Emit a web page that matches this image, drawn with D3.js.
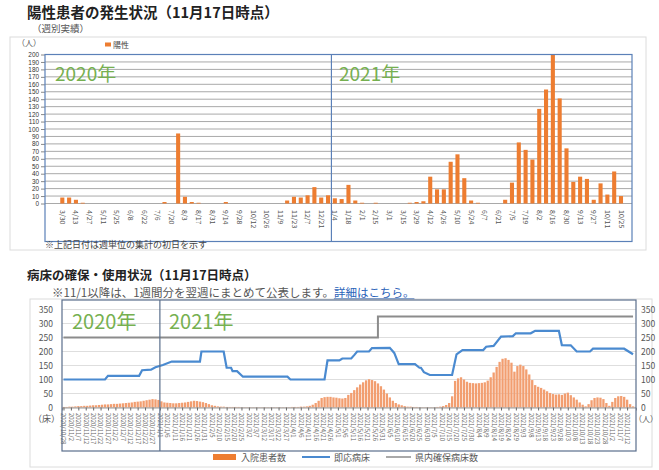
<!DOCTYPE html>
<html>
<head>
<meta charset="utf-8">
<script src="https://cdn.jsdelivr.net/npm/d3@7"></script>
<style>
  body { margin: 0; background: #fff; }
  svg text { font-family: "Noto Sans CJK JP", "Noto Sans", sans-serif; }
  svg .num text { font-family: "Liberation Sans", "DejaVu Sans", sans-serif; }
</style>
</head>
<body>
<svg id="chart" width="659" height="470"></svg>
<script>
// ---- 陽性患者（週別） ----
var weekStart2020 = "2020-03-30";
var weekStart2021 = "2021-01-04";
var positive2020 = [8, 8, 5, 1, 0, 0, 0, 0, 0, 0, 0, 0, 0, 0, 0,
  2, 0, 94, 9, 2, 1, 0, 0, 0, 2, 0, 0, 0, 0, 0, 0, 0, 0,
  4, 9, 8, 11, 22, 8, 11];
var positive2021 = [7, 6, 25, 4, 1, 0, 1, 0, 0, 0, 0, 1, 2, 3, 36, 19, 19, 56, 66, 34,
  4, 1, 0, 0, 0, 5, 28, 82, 72, 59, 127, 153, 200, 141, 74, 29, 36, 33, 5, 27, 12, 43, 10];
var topTicks = d3.range(0, 201, 10);

// ---- 病床（2日ごと） ----
var bedStart = "2020-10-28";
var inpatients = [2, 2, 3, 3, 4,
  5, 5, 6, 6, 7, 8, 8, 9,
  10, 11, 11, 12, 13, 13, 14, 15, 16,
  17, 18, 20, 21, 22, 24, 26,
  28, 30, 29, 27,
  22, 18, 17, 16, 15, 15, 16, 17, 18,
  20, 22, 24, 23, 21, 19, 16,
  12, 8, 6, 4,
  3, 3, 2, 2, 2, 2, 2, 1, 1, 1, 1, 1, 1, 1, 1, 1, 1, 1, 1, 1, 1, 1, 1, 1, 2, 2, 2, 3, 3,
  4, 6, 10, 16, 24,
  34, 37, 38, 38, 36, 35, 33, 32, 34,
  45, 52, 62, 72, 82, 90, 97, 101, 98, 94, 86, 76, 64, 50, 36, 24, 16, 11, 8, 5,
  3, 3, 2, 2, 1, 1, 1, 1, 1, 1, 2, 3,
  5, 9, 16, 40,
  95, 104, 108, 100, 92, 88, 87, 86, 87, 88, 90, 96, 108, 125, 145, 163, 174, 176, 170, 160,
  128, 148, 153, 148, 136, 118, 98, 80, 74, 70, 64, 58, 52, 48, 46, 47, 45, 50, 53, 44, 36, 28, 18, 10, 4,
  12, 26, 34, 36, 35, 30, 16, 6, 20, 34, 40, 41, 38, 28, 12, 4];

// 即応病床 (date, beds)
var readyBeds = [
  ["2020-10-28", 100], ["2020-11-25", 100], ["2020-11-27", 113], ["2020-12-18", 113],
  ["2020-12-20", 133], ["2020-12-26", 135], ["2020-12-29", 144], ["2021-01-03", 152],
  ["2021-01-09", 164], ["2021-01-28", 164], ["2021-01-29", 200], ["2021-02-13", 200],
  ["2021-02-15", 142], ["2021-02-18", 142], ["2021-02-19", 130], ["2021-02-22", 130],
  ["2021-02-26", 110], ["2021-03-28", 110], ["2021-03-30", 100], ["2021-04-22", 100],
  ["2021-04-24", 168], ["2021-05-02", 168], ["2021-05-04", 175], ["2021-05-10", 175],
  ["2021-05-12", 187], ["2021-05-14", 200], ["2021-05-22", 200], ["2021-05-24", 212],
  ["2021-06-05", 213], ["2021-06-08", 195], ["2021-06-11", 155], ["2021-06-22", 155],
  ["2021-06-25", 142], ["2021-06-26", 142], ["2021-06-28", 126], ["2021-07-02", 116],
  ["2021-07-17", 116], ["2021-07-20", 190], ["2021-07-24", 205], ["2021-08-07", 205],
  ["2021-08-09", 217], ["2021-08-14", 220], ["2021-08-19", 253], ["2021-08-27", 255],
  ["2021-08-29", 265], ["2021-09-08", 265], ["2021-09-11", 274], ["2021-09-27", 274],
  ["2021-09-29", 223], ["2021-10-05", 222], ["2021-10-09", 200], ["2021-10-18", 200],
  ["2021-10-20", 210], ["2021-11-10", 210], ["2021-11-16", 190]
];
// 県内確保病床数
var securedBeds = [["2020-10-28", 250], ["2021-05-28", 250], ["2021-05-28", 325], ["2021-11-16", 325]];
var bedTicks = d3.range(0, 351, 50);

var parse = d3.timeParse("%Y-%m-%d");
var orange = "#ed7d31";
var svg = d3.select("#chart");

// ================= 上段 =================
var s20 = parse(weekStart2020), s21 = parse(weekStart2021);
var weeks = positive2020.map(function(v, i) { return { date: d3.timeWeek.offset(s20, i), value: v }; })
  .concat(positive2021.map(function(v, i) { return { date: d3.timeWeek.offset(s21, i), value: v }; }));
weeks.forEach(function(d, i) { d.i = i; });

svg.append("text").attr("x", 27).attr("y", 18).attr("font-size", 14.5).attr("font-weight", "bold")
  .attr("fill", "#222").text("陽性患者の発生状況（11月17日時点）");
svg.append("text").attr("x", 32).attr("y", 32).attr("font-size", 9.5).attr("fill", "#555").text("（週別実績）");

svg.append("rect").attr("x", 10).attr("y", 37).attr("width", 636).attr("height", 213)
  .attr("fill", "none").attr("stroke", "#dcdcdc");

var xTop = d3.scaleBand().domain(weeks.map(function(d) { return d.i; }))
  .range([58.9, 624.4]).paddingInner(0.4).paddingOuter(0.2);
var yTop = d3.scaleLinear().domain([0, 200]).range([203.5, 54.5]);

var gTop = svg.append("g");
gTop.selectAll(".grid").data(topTicks).enter().append("line")
  .attr("x1", 45).attr("x2", 632)
  .attr("y1", function(d) { return yTop(d); }).attr("y2", function(d) { return yTop(d); })
  .attr("stroke", "#a9a9a9").attr("stroke-width", 1);

var yAxisTop = gTop.append("g").attr("class", "num").attr("transform", "translate(45,0)")
  .call(d3.axisLeft(yTop).tickValues(topTicks).tickSize(4).tickPadding(2));
yAxisTop.select(".domain").remove();
yAxisTop.selectAll("line").attr("stroke", "#888");
yAxisTop.selectAll("text").attr("font-size", 6.4).attr("fill", "#333");

gTop.selectAll(".bar").data(weeks).enter().append("rect")
  .attr("x", function(d) { return xTop(d.i); })
  .attr("width", xTop.bandwidth())
  .attr("y", function(d) { return yTop(d.value); })
  .attr("height", function(d) { return yTop(0) - yTop(d.value); })
  .attr("fill", orange);

var fmtWeek = d3.timeFormat("%-m/%-d");
gTop.selectAll(".xl").data(weeks.filter(function(d) { return d.i % 2 === 0; })).enter().append("text")
  .attr("transform", function(d) { return "translate(" + (xTop(d.i) + xTop.bandwidth() / 2) + ",210) rotate(90)"; })
  .attr("dy", "0.35em").attr("font-size", 7).attr("fill", "#555").text(function(d) { return fmtWeek(d.date); });

gTop.append("rect").attr("x", 45).attr("y", 54.5).attr("width", 587).attr("height", 187)
  .attr("fill", "none").attr("stroke", "#5b80b8").attr("stroke-width", 1.2);
var divTop = xTop(positive2020.length) - xTop.step() * xTop.paddingInner() / 2;
gTop.append("line").attr("x1", divTop).attr("x2", divTop).attr("y1", 54.5).attr("y2", 241.5)
  .attr("stroke", "#5b80b8").attr("stroke-width", 1.2);

gTop.append("text").attr("x", 55).attr("y", 81).attr("font-size", 19).attr("fill", "#76b050").text("2020年");
gTop.append("text").attr("x", 339).attr("y", 81).attr("font-size", 19).attr("fill", "#76b050").text("2021年");
gTop.append("text").attr("x", 17).attr("y", 46).attr("font-size", 8).attr("fill", "#555").text("（人）");
gTop.append("rect").attr("x", 105).attr("y", 42.5).attr("width", 6).attr("height", 4).attr("fill", orange);
gTop.append("text").attr("x", 113).attr("y", 48).attr("font-size", 8).attr("fill", "#444").text("陽性");
svg.append("text").attr("x", 45).attr("y", 248).attr("font-size", 9).attr("fill", "#444")
  .text("※上記日付は週単位の集計の初日を示す");

// ================= 下段 =================
svg.append("text").attr("x", 27).attr("y", 280).attr("font-size", 12.5).attr("font-weight", "bold")
  .attr("fill", "#222").text("病床の確保・使用状況（11月17日時点）");
var sub = svg.append("text").attr("x", 52).attr("y", 297).attr("font-size", 11.5).attr("fill", "#555");
sub.append("tspan").text("※11/1以降は、1週間分を翌週にまとめて公表します。");
sub.append("tspan").attr("fill", "#2a62b8").attr("text-decoration", "underline").text("詳細はこちら。");

svg.append("rect").attr("x", 30).attr("y", 299).attr("width", 622).attr("height", 168)
  .attr("fill", "none").attr("stroke", "#dcdcdc");

var x0 = parse("2020-10-27"), x1 = parse("2021-11-18");
var xB = d3.scaleTime().domain([x0, x1]).range([62, 636]);
var yB = d3.scaleLinear().domain([0, 350]).range([407.5, 309.5]);

var gB = svg.append("g");
gB.selectAll(".bgrid").data(bedTicks).enter().append("line")
  .attr("x1", 62).attr("x2", 636)
  .attr("y1", function(d) { return yB(d); }).attr("y2", function(d) { return yB(d); })
  .attr("stroke", "#dedede");

var yL = gB.append("g").attr("transform", "translate(62,0)")
  .call(d3.axisLeft(yB).tickValues(bedTicks).tickSize(0).tickPadding(9));
var yR = gB.append("g").attr("transform", "translate(636,0)")
  .call(d3.axisRight(yB).tickValues(bedTicks).tickSize(0).tickPadding(5));
[yL, yR].forEach(function(a) {
  a.select(".domain").remove();
  a.selectAll("text").attr("font-size", 8.5).attr("fill", "#555");
});

var bStart = parse(bedStart);
var bars = inpatients.map(function(v, k) { return { date: d3.timeDay.offset(bStart, 2 * k), value: v }; });
gB.selectAll(".ib").data(bars).enter().append("rect")
  .attr("x", function(d) { return xB(d.date) - 1.1; })
  .attr("width", 2.3)
  .attr("y", function(d) { return yB(d.value); })
  .attr("height", function(d) { return yB(0) - yB(d.value); })
  .attr("fill", "#f29e70");

// x axis (every 5 days)
var tickDates = d3.range(0, 77).map(function(i) { return d3.timeDay.offset(bStart, 5 * i); });
var fmtDay = d3.timeFormat("%Y/%-m/%-d");
var xAx = gB.append("g").attr("transform", "translate(0," + yB(0) + ")")
  .call(d3.axisBottom(xB).tickValues(tickDates).tickSize(3).tickFormat(""));
xAx.select(".domain").attr("stroke", "#999");
xAx.selectAll("line").attr("stroke", "#666");
gB.selectAll(".xd").data(tickDates).enter().append("text")
  .attr("transform", function(d) { return "translate(" + xB(d) + ",413) rotate(90)"; })
  .attr("dy", "0.35em").attr("font-size", 6).attr("fill", "#666").text(function(d) { return fmtDay(d); });

var line = d3.line()
  .x(function(d) { return xB(parse(d[0])); })
  .y(function(d) { return yB(d[1]); });
gB.append("path").datum(securedBeds).attr("d", line).attr("fill", "none")
  .attr("stroke", "#8c8c8c").attr("stroke-width", 2);
gB.append("path").datum(readyBeds).attr("d", line).attr("fill", "none")
  .attr("stroke", "#4a8ad0").attr("stroke-width", 2.2);

gB.append("rect").attr("x", 62).attr("y", 300).attr("width", 574).attr("height", 151)
  .attr("fill", "none").attr("stroke", "#5a6e8c").attr("stroke-width", 1.2);
var divB = xB(parse("2021-01-01"));
gB.append("line").attr("x1", divB).attr("x2", divB).attr("y1", 300).attr("y2", 451)
  .attr("stroke", "#5a6e8c").attr("stroke-width", 1.2);

gB.append("text").attr("x", 72).attr("y", 329).attr("font-size", 20).attr("fill", "#76b050").text("2020年");
gB.append("text").attr("x", 169).attr("y", 329).attr("font-size", 20).attr("fill", "#76b050").text("2021年");
gB.append("text").attr("x", 33).attr("y", 422).attr("font-size", 9).attr("fill", "#555").text("（床）");
gB.append("text").attr("x", 658).attr("y", 422).attr("text-anchor", "end").attr("font-size", 8)
  .attr("fill", "#555").text("（人）");

// legend
var lg = gB.append("g").attr("transform", "translate(0,457)");
lg.append("rect").attr("x", 213).attr("y", -3).attr("width", 23).attr("height", 6).attr("fill", orange);
lg.append("text").attr("x", 241).attr("y", 3.5).attr("font-size", 9).attr("fill", "#555").text("入院患者数");
lg.append("line").attr("x1", 302).attr("x2", 330).attr("y1", 0).attr("y2", 0).attr("stroke", "#4a8ad0").attr("stroke-width", 2);
lg.append("text").attr("x", 334).attr("y", 3.5).attr("font-size", 9).attr("fill", "#555").text("即応病床");
lg.append("line").attr("x1", 386).attr("x2", 411).attr("y1", 0).attr("y2", 0).attr("stroke", "#8c8c8c").attr("stroke-width", 1.5);
lg.append("text").attr("x", 415).attr("y", 3.5).attr("font-size", 9).attr("fill", "#555").text("県内確保病床数");
</script>
</body>
</html>
